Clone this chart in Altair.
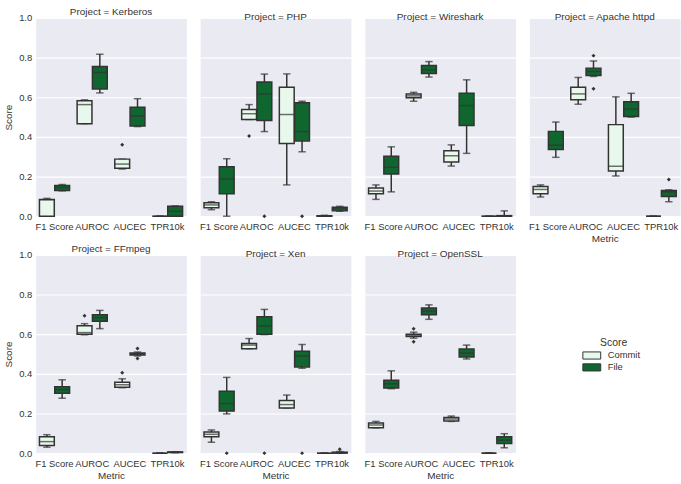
import altair as alt
import pandas as pd

PROJECTS = ["Kerberos", "PHP", "Wireshark", "Apache httpd", "FFmpeg", "Xen", "OpenSSL"]
METRICS = ["F1 Score", "AUROC", "AUCEC", "TPR10k"]
SCORES = ["Commit", "File"]

# box stats per metric: [whisker_lo, q1, median, q3, whisker_hi]
kerberos_commit = [[0.0, 0.0, 0.082, 0.085, 0.09], [0.467, 0.467, 0.563, 0.583, 0.587],
                   [0.238, 0.242, 0.263, 0.288, 0.288], [0.0, 0.0, 0.0, 0.0, 0.0]]
kerberos_file = [[0.128, 0.13, 0.145, 0.155, 0.16], [0.622, 0.642, 0.725, 0.755, 0.817],
                 [0.452, 0.455, 0.505, 0.55, 0.593], [0.0, 0.0, 0.025, 0.05, 0.052]]
php_commit = [[0.033, 0.043, 0.057, 0.068, 0.073], [0.488, 0.488, 0.517, 0.538, 0.563],
              [0.158, 0.367, 0.513, 0.65, 0.718], [0.0, 0.0, 0.0, 0.002, 0.005]]
php_file = [[0.0, 0.113, 0.188, 0.25, 0.29], [0.427, 0.483, 0.617, 0.677, 0.717],
            [0.325, 0.38, 0.427, 0.572, 0.58], [0.025, 0.027, 0.037, 0.045, 0.05]]
wireshark_commit = [[0.085, 0.113, 0.127, 0.142, 0.158], [0.58, 0.597, 0.607, 0.617, 0.625],
                    [0.253, 0.273, 0.305, 0.33, 0.36], [0.0, 0.0, 0.0, 0.0, 0.0]]
wireshark_file = [[0.123, 0.213, 0.247, 0.302, 0.35], [0.702, 0.72, 0.738, 0.76, 0.78],
                  [0.317, 0.458, 0.558, 0.62, 0.688], [0.0, 0.0, 0.0, 0.003, 0.027]]
apache_commit = [[0.097, 0.113, 0.135, 0.15, 0.158], [0.565, 0.588, 0.617, 0.65, 0.7],
                 [0.203, 0.228, 0.252, 0.462, 0.602], [0.0, 0.0, 0.0, 0.0, 0.0]]
apache_file = [[0.297, 0.337, 0.358, 0.428, 0.475], [0.705, 0.71, 0.73, 0.747, 0.783],
               [0.5, 0.503, 0.54, 0.577, 0.62], [0.073, 0.1, 0.123, 0.13, 0.133]]
ffmpeg_commit = [[0.03, 0.038, 0.058, 0.083, 0.093], [0.597, 0.6, 0.608, 0.642, 0.653],
                 [0.33, 0.332, 0.345, 0.357, 0.375], [0.0, 0.0, 0.0, 0.0, 0.001]]
ffmpeg_file = [[0.277, 0.302, 0.32, 0.335, 0.37], [0.628, 0.665, 0.683, 0.698, 0.72],
               [0.49, 0.495, 0.5, 0.505, 0.51], [0.002, 0.003, 0.005, 0.006, 0.007]]
xen_commit = [[0.055, 0.083, 0.095, 0.107, 0.117], [0.527, 0.527, 0.545, 0.553, 0.578],
              [0.228, 0.228, 0.245, 0.265, 0.293], [0.0, 0.0, 0.0, 0.0, 0.001]]
xen_file = [[0.198, 0.212, 0.25, 0.312, 0.382], [0.598, 0.6, 0.642, 0.688, 0.725],
            [0.428, 0.435, 0.49, 0.514, 0.548], [0.0, 0.0, 0.002, 0.005, 0.008]]
openssl_commit = [[0.128, 0.128, 0.142, 0.152, 0.16], [0.58, 0.588, 0.595, 0.6, 0.61],
                  [0.16, 0.162, 0.172, 0.18, 0.187], [0.0, 0.0, 0.0, 0.0, 0.001]]
openssl_file = [[0.325, 0.328, 0.35, 0.368, 0.415], [0.675, 0.698, 0.717, 0.732, 0.748],
                [0.475, 0.485, 0.505, 0.525, 0.545], [0.027, 0.048, 0.065, 0.083, 0.098]]

BOX_STATS = {
    "Kerberos": (kerberos_commit, kerberos_file),
    "PHP": (php_commit, php_file),
    "Wireshark": (wireshark_commit, wireshark_file),
    "Apache httpd": (apache_commit, apache_file),
    "FFmpeg": (ffmpeg_commit, ffmpeg_file),
    "Xen": (xen_commit, xen_file),
    "OpenSSL": (openssl_commit, openssl_file),
}

# outliers
OUT_PROJECT = ["Kerberos", "PHP", "PHP", "PHP", "Apache httpd", "Apache httpd", "Apache httpd",
               "FFmpeg", "FFmpeg", "FFmpeg", "FFmpeg", "Xen", "Xen", "Xen", "Xen",
               "OpenSSL", "OpenSSL"]
OUT_METRIC = ["AUCEC", "AUROC", "AUROC", "AUCEC", "AUROC", "AUROC", "TPR10k",
              "AUROC", "AUCEC", "AUCEC", "AUCEC", "F1 Score", "AUROC", "AUCEC", "TPR10k",
              "AUROC", "AUROC"]
OUT_SCORE = ["Commit", "Commit", "File", "File", "File", "File", "File",
             "Commit", "Commit", "File", "File", "File", "File", "File", "File",
             "Commit", "Commit"]
OUT_VALUE = [0.36, 0.405, 0.0, 0.0, 0.81, 0.643, 0.185,
             0.693, 0.405, 0.528, 0.477, 0.0, 0.0, 0.0, 0.02,
             0.627, 0.562]

rows = []
for proj in PROJECTS:
    for s_idx, score in enumerate(SCORES):
        for m_idx, metric in enumerate(METRICS):
            lo, q1, med, q3, hi = BOX_STATS[proj][s_idx][m_idx]
            rows.append(dict(Project=proj, Metric=metric, Score=score,
                             lo=lo, q1=q1, med=med, q3=q3, hi=hi))
box_df = pd.DataFrame(rows)
out_df = pd.DataFrame(dict(Project=OUT_PROJECT, Metric=OUT_METRIC,
                           Score=OUT_SCORE, value=OUT_VALUE))

FONT = "Liberation Sans"
TXT = "#333333"
EDGE = "#333333"
COLORS = ["#e9f8ec", "#0f662f"]
W, H = 152, 200


def panel(proj, show_y, show_xtitle):
    d = box_df[box_df.Project == proj]
    o = out_df[out_df.Project == proj]
    xaxis = alt.Axis(title="Metric" if show_xtitle else None, labelAngle=0, ticks=False,
                     tickSize=0, domain=False, grid=False, labelPadding=5, titlePadding=3,
                     labelFontSize=9.5, titleFontSize=10, labelColor=TXT, titleColor=TXT,
                     titleFontWeight="normal", labelFont=FONT, titleFont=FONT)
    x = alt.X("Metric:N", sort=METRICS,
              scale=alt.Scale(domain=METRICS, paddingInner=0.2, paddingOuter=0.1),
              axis=xaxis)
    xo = alt.XOffset("Score:N", scale=alt.Scale(domain=SCORES, paddingInner=0.03, paddingOuter=0))
    if show_y:
        yaxis = alt.Axis(title="Score", values=[0, 0.2, 0.4, 0.6, 0.8, 1.0], format=".1f",
                         ticks=False, tickSize=0, domain=False, grid=True, gridColor="white",
                         gridWidth=1.2, labelPadding=4, titlePadding=5, labelFontSize=9.5,
                         titleFontSize=10, labelColor=TXT, titleColor=TXT,
                         titleFontWeight="normal", labelFont=FONT, titleFont=FONT)
    else:
        yaxis = alt.Axis(title=None, values=[0, 0.2, 0.4, 0.6, 0.8, 1.0], labels=False,
                         ticks=False, tickSize=0, domain=False, grid=True, gridColor="white",
                         gridWidth=1.2, minExtent=0, maxExtent=0)
    yscale = alt.Scale(domain=[0, 1], nice=False, zero=False)

    base = alt.Chart(d)
    whisk = base.mark_rule(color=EDGE, strokeWidth=1.5).encode(
        x=x, xOffset=xo, y=alt.Y("lo:Q", scale=yscale, axis=yaxis), y2="hi:Q")
    box = base.mark_bar(stroke=EDGE, strokeWidth=1.5).encode(
        x=x, xOffset=xo, y=alt.Y("q1:Q", scale=yscale, axis=yaxis), y2="q3:Q",
        fill=alt.Fill("Score:N", scale=alt.Scale(domain=SCORES, range=COLORS),
                      legend=alt.Legend(title="Score")))
    med = base.mark_tick(color=EDGE, thickness=1.5, size=15).encode(
        x=x, xOffset=xo, y=alt.Y("med:Q", scale=yscale, axis=yaxis))
    cap_lo = base.mark_tick(color=EDGE, thickness=1.5, size=7.5).encode(
        x=x, xOffset=xo, y=alt.Y("lo:Q", scale=yscale, axis=yaxis))
    cap_hi = base.mark_tick(color=EDGE, thickness=1.5, size=7.5).encode(
        x=x, xOffset=xo, y=alt.Y("hi:Q", scale=yscale, axis=yaxis))
    outl = alt.Chart(o).mark_point(shape="diamond", filled=True, color=EDGE, size=16,
                                   opacity=1).encode(
        x=x, xOffset=xo, y=alt.Y("value:Q", scale=yscale, axis=yaxis))
    return alt.layer(whisk, cap_lo, cap_hi, box, med, outl).properties(
        width=W, height=H,
        title=alt.TitleParams(f"Project = {proj}", fontSize=10, fontWeight="normal",
                              font=FONT, color=TXT, offset=-4, anchor="middle"))


row1 = alt.hconcat(
    panel("Kerberos", True, False),
    panel("PHP", False, False),
    panel("Wireshark", False, False),
    panel("Apache httpd", False, True),
    spacing=11)
row2 = alt.hconcat(
    panel("FFmpeg", True, True),
    panel("Xen", False, True),
    panel("OpenSSL", False, True),
    spacing=11)

chart = alt.vconcat(row1, row2, spacing=-1).properties(
    padding={"left": 3, "top": 4, "right": 0, "bottom": 0}
).resolve_scale(fill="shared").configure_view(
    fill="#eaeaf2", stroke="transparent"
).configure_legend(
    orient="none", legendX=556, legendY=323, titleAnchor="middle",
    titleFont=FONT, titleFontSize=10.5, titleFontWeight="normal", titleColor=TXT,
    labelFont=FONT, labelFontSize=9.5, labelColor=TXT, labelOffset=11,
    symbolType="M-2,-0.8H2V0.8H-2Z", symbolSize=81, symbolStrokeColor=EDGE,
    symbolStrokeWidth=1, rowPadding=0, titlePadding=2, padding=0
)

chart.save("out.html", embed_options={"renderer": "svg", "actions": False})
